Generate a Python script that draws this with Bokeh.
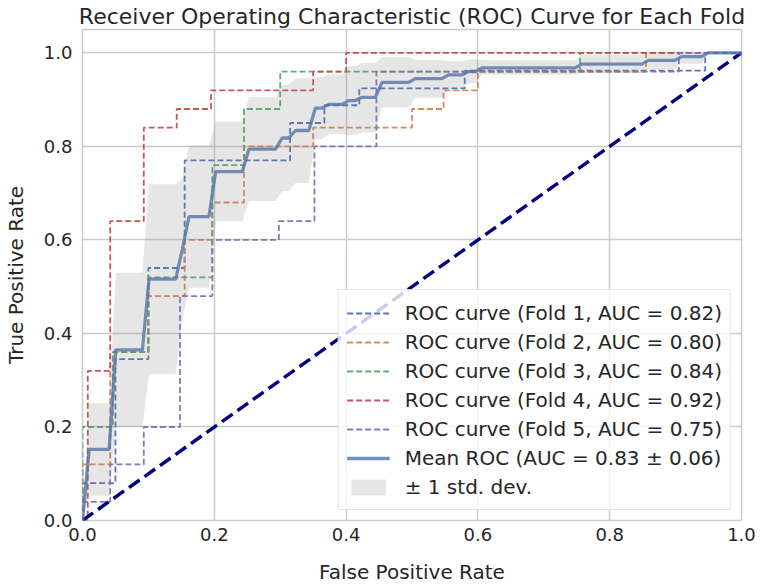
from bokeh.plotting import figure
from bokeh.models import Range1d, FixedTicker, Legend, LegendItem, PrintfTickFormatter
from bokeh.embed import file_html
from bokeh.resources import INLINE

# ---------------- data ----------------
FOLD_LABELS = [
    "ROC curve (Fold 1, AUC = 0.82)",
    "ROC curve (Fold 2, AUC = 0.80)",
    "ROC curve (Fold 3, AUC = 0.84)",
    "ROC curve (Fold 4, AUC = 0.92)",
    "ROC curve (Fold 5, AUC = 0.75)",
]
MEAN_LABEL = "Mean ROC (AUC = 0.83 \u00b1 0.06)"
STD_LABEL = "\u00b1 1 std. dev."

FOLD1_FPR = [0.0, 0.0, 0.05, 0.05, 0.1, 0.1, 0.155, 0.155, 0.315, 0.315, 0.367, 0.367, 0.42, 0.42, 0.58, 0.58, 0.945, 0.945, 1.0]
FOLD1_TPR = [0.0, 0.08, 0.08, 0.345, 0.345, 0.54, 0.54, 0.77, 0.77, 0.85, 0.85, 0.888, 0.888, 0.924, 0.924, 0.962, 0.962, 1.0, 1.0]

FOLD2_FPR = [0.0, 0.0, 0.042, 0.042, 0.1, 0.1, 0.155, 0.155, 0.197, 0.197, 0.245, 0.245, 0.35, 0.35, 0.5, 0.5, 0.548, 0.548, 0.6, 0.6, 0.855, 0.855, 1.0]
FOLD2_TPR = [0.0, 0.12, 0.12, 0.36, 0.36, 0.48, 0.48, 0.6, 0.6, 0.68, 0.68, 0.8, 0.8, 0.84, 0.84, 0.88, 0.88, 0.92, 0.92, 0.96, 0.96, 1.0, 1.0]

FOLD3_FPR = [0.0, 0.0, 0.046, 0.046, 0.1, 0.1, 0.197, 0.197, 0.245, 0.245, 0.3, 0.3, 0.755, 0.755, 1.0]
FOLD3_TPR = [0.0, 0.2, 0.2, 0.36, 0.36, 0.52, 0.52, 0.76, 0.76, 0.88, 0.88, 0.96, 0.96, 1.0, 1.0]

FOLD4_FPR = [0.0, 0.008, 0.008, 0.042, 0.042, 0.093, 0.093, 0.143, 0.143, 0.195, 0.195, 0.35, 0.35, 0.4, 0.4, 1.0]
FOLD4_TPR = [0.0, 0.0, 0.32, 0.32, 0.64, 0.64, 0.84, 0.84, 0.88, 0.88, 0.92, 0.92, 0.96, 0.96, 1.0, 1.0]

FOLD5_FPR = [0.0, 0.0, 0.042, 0.042, 0.093, 0.093, 0.148, 0.148, 0.197, 0.197, 0.298, 0.298, 0.352, 0.352, 0.446, 0.446, 0.905, 0.905, 1.0]
FOLD5_TPR = [0.0, 0.04, 0.04, 0.12, 0.12, 0.2, 0.2, 0.48, 0.48, 0.6, 0.6, 0.64, 0.64, 0.8, 0.8, 0.96, 0.96, 1.0, 1.0]

MEAN_FPR = [0.0, 0.0101, 0.0404, 0.0505, 0.0909, 0.1010, 0.1414, 0.1515, 0.1616, 0.1919,
            0.2020, 0.2424, 0.2525, 0.2929, 0.3030, 0.3131, 0.3232, 0.3434, 0.3535, 0.3636,
            0.3737, 0.3939, 0.4040, 0.4141, 0.4242, 0.4444, 0.4545, 0.4949, 0.5051, 0.5455,
            0.5556, 0.5758, 0.5859, 0.5960, 0.6061, 0.7475, 0.7576, 0.8485, 0.8586, 0.8990,
            0.9091, 0.9394, 0.9495, 1.0]
MEAN_TPR = [0.0, 0.152, 0.152, 0.365, 0.365, 0.516, 0.516, 0.58, 0.65, 0.65,
            0.746, 0.746, 0.794, 0.794, 0.818, 0.818, 0.834, 0.834, 0.882, 0.882,
            0.890, 0.890, 0.898, 0.898, 0.905, 0.905, 0.937, 0.937, 0.945, 0.945,
            0.953, 0.953, 0.960, 0.960, 0.968, 0.968, 0.976, 0.976, 0.984, 0.984,
            0.992, 0.992, 1.0, 1.0]
STD_UPPER = [0.0, 0.251, 0.251, 0.530, 0.530, 0.719, 0.719, 0.732, 0.802, 0.802,
             0.853, 0.853, 0.905, 0.905, 0.932, 0.932, 0.946, 0.946, 0.948, 0.948,
             0.954, 0.954, 0.972, 0.972, 0.979, 0.979, 0.991, 0.991, 0.985, 0.985,
             0.982, 0.982, 0.986, 0.986, 0.984, 0.984, 0.996, 0.996, 1.0, 1.0,
             1.0, 1.0, 1.0, 1.0]
STD_LOWER = [0.0, 0.053, 0.053, 0.200, 0.200, 0.313, 0.313, 0.428, 0.498, 0.498,
             0.640, 0.640, 0.683, 0.683, 0.704, 0.704, 0.722, 0.722, 0.816, 0.816,
             0.826, 0.826, 0.824, 0.824, 0.830, 0.830, 0.883, 0.883, 0.904, 0.904,
             0.924, 0.924, 0.935, 0.935, 0.953, 0.953, 0.957, 0.957, 0.965, 0.965,
             0.977, 0.977, 1.0, 1.0]

CHANCE_X = [0.0, 1.0]
CHANCE_Y = [0.0, 1.0]

TICKS = [0.0, 0.2, 0.4, 0.6, 0.8, 1.0]

FOLD_COLORS = ["#4C72B0", "#DD8452", "#55A868", "#C44E52", "#8172B3"]
FONT = "DejaVu Sans"
TEXT_COLOR = "#262626"
GRID_COLOR = "#cccccc"

# ---------------- figure ----------------
p = figure(
    width=760, height=586,
    x_range=Range1d(0.0, 1.0), y_range=Range1d(0.0, 1.05),
    output_backend="svg", toolbar_location=None,
    min_border_left=82, min_border_right=19, min_border_top=29, min_border_bottom=66,
    background_fill_color="white", border_fill_color="white",
)

p.title.text = "Receiver Operating Characteristic (ROC) Curve for Each Fold"
p.title.text_font = FONT
p.title.text_font_size = "22px"
p.title.text_font_style = "normal"
p.title.text_color = TEXT_COLOR
p.title.align = "center"
p.title.standoff = 2

p.outline_line_color = GRID_COLOR
p.outline_line_width = 1.5

for ax in (p.xaxis, p.yaxis):
    ax.ticker = FixedTicker(ticks=TICKS)
    ax.formatter = PrintfTickFormatter(format="%.1f")
    ax.axis_line_color = None
    ax.major_tick_line_color = None
    ax.minor_tick_line_color = None
    ax.major_tick_out = 0
    ax.major_tick_in = 0
    ax.minor_tick_out = 0
    ax.minor_tick_in = 0
    ax.major_label_text_font = FONT
    ax.major_label_text_font_size = "18px"
    ax.major_label_text_color = TEXT_COLOR
    ax.axis_label_text_font = FONT
    ax.axis_label_text_font_size = "20px"
    ax.axis_label_text_font_style = "normal"
    ax.axis_label_text_color = TEXT_COLOR

p.xaxis.axis_label = "False Positive Rate"
p.yaxis.axis_label = "True Positive Rate"
p.xaxis.major_label_standoff = 7
p.yaxis.major_label_standoff = 10
p.xaxis.axis_label_standoff = 16
p.yaxis.axis_label_standoff = 13

p.xgrid.ticker = FixedTicker(ticks=TICKS)
p.ygrid.ticker = FixedTicker(ticks=TICKS)
p.grid.grid_line_color = GRID_COLOR
p.grid.grid_line_width = 1.5

# ---------------- glyphs ----------------
folds = [(FOLD1_FPR, FOLD1_TPR), (FOLD2_FPR, FOLD2_TPR), (FOLD3_FPR, FOLD3_TPR),
         (FOLD4_FPR, FOLD4_TPR), (FOLD5_FPR, FOLD5_TPR)]
fold_renderers = []
for (fx, fy), col in zip(folds, FOLD_COLORS):
    r = p.line(fx, fy, line_color=col, line_width=1.8, line_dash="6 3", line_alpha=0.95)
    fold_renderers.append(r)

p.line(CHANCE_X, CHANCE_Y, line_color="navy", line_width=3.4, line_dash="13 6")

mean_r = p.line(MEAN_FPR, MEAN_TPR, line_color="#4C72B0", line_width=3.3, line_alpha=0.8)

band_r = p.varea(x=MEAN_FPR, y1=STD_LOWER, y2=STD_UPPER, fill_color="grey", fill_alpha=0.2)

items = [LegendItem(label=lab, renderers=[r]) for lab, r in zip(FOLD_LABELS, fold_renderers)]
items.append(LegendItem(label=MEAN_LABEL, renderers=[mean_r]))
items.append(LegendItem(label=STD_LABEL, renderers=[band_r]))

legend = Legend(
    items=items, location="bottom_right",
    label_text_font=FONT, label_text_font_size="20px", label_text_color=TEXT_COLOR,
    label_height=29, glyph_height=20, glyph_width=43, label_standoff=15,
    spacing=0, padding=8, margin=10,
    background_fill_color="white", background_fill_alpha=0.8,
    border_line_color=GRID_COLOR, border_line_width=1.2,
)
p.add_layout(legend)

open("out.html", "w").write(file_html(p, INLINE))
